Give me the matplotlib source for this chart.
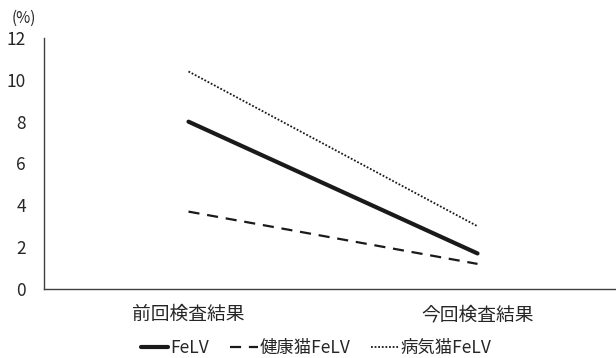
import matplotlib.pyplot as plt

plt.rcParams['font.family'] = ['Noto Sans CJK JP', 'DejaVu Sans']

categories = ['前回検査結果', '今回検査結果']
felv = [8.0, 1.7]
healthy_felv = [3.7, 1.2]
sick_felv = [10.4, 3.0]
series_names = ['FeLV', '健康猫FeLV', '病気猫FeLV']

fig = plt.figure(figsize=(6.16, 3.58), dpi=100)
ax = fig.add_axes([44 / 616, 69 / 358, 572 / 616, 251 / 358])

x = range(len(categories))
ax.plot(x, felv, color='#1a1a1a', lw=3.0, solid_capstyle='round', label=series_names[0])
ax.plot(x, healthy_felv, color='#1a1a1a', lw=1.6, ls=(0, (5, 3.5)), label=series_names[1])
ax.plot(x, sick_felv, color='#1a1a1a', lw=1.3, ls=(0, (1, 1)), label=series_names[2])

ax.set_xlim(-0.5, -0.5 + 572 / 289)
ax.set_ylim(0, 12)
ax.set_yticks(range(0, 13, 2))
ax.set_xticks(list(x))
ax.set_xticklabels(categories, fontsize=13.5, color='#262626')
ax.tick_params(axis='y', length=0, pad=13, labelsize=12.5, labelcolor='#262626')
ax.tick_params(axis='x', length=0, pad=11)

for side in ('top', 'right'):
    ax.spines[side].set_visible(False)
for side in ('left', 'bottom'):
    ax.spines[side].set_color('#404040')
    ax.spines[side].set_linewidth(1.0)

fig.text(12 / 616, 1 - 18 / 358, '(%)', fontsize=11, color='#262626', va='center')

fig.legend(loc='center', bbox_to_anchor=(316 / 616, 1 - 348 / 358), ncol=3, frameon=False,
           fontsize=12.5, handlelength=1.6, handletextpad=0.1, columnspacing=1.2,
           labelcolor='#262626')

fig.savefig('out.png', dpi=100)
